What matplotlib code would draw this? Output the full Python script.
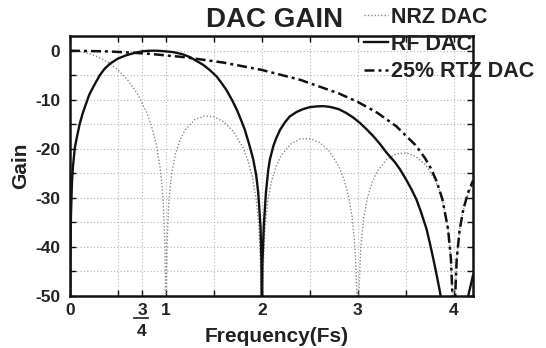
import matplotlib
matplotlib.use("Agg")
import matplotlib.pyplot as plt
import matplotlib.transforms as mtransforms
from matplotlib.lines import Line2D

plt.rcParams['font.family'] = ['Liberation Sans', 'DejaVu Sans']
plt.rcParams['font.weight'] = 'bold'

# ---------------- data ----------------
title = "DAC GAIN"
series_names = ["NRZ DAC", "RF DAC", "25% RTZ DAC"]

nrz_f = [0.0, 0.1, 0.2, 0.3, 0.4, 0.5, 0.6, 0.7, 0.8, 0.85, 0.9, 0.94, 0.97, 0.99, 1.0,
         1.01, 1.03, 1.06, 1.1, 1.15, 1.2, 1.3, 1.4, 1.5, 1.6, 1.7, 1.8, 1.85, 1.9, 1.94,
         1.97, 1.99, 2.0, 2.01, 2.03, 2.06, 2.1, 2.15, 2.2, 2.3, 2.4, 2.5, 2.6, 2.7, 2.8,
         2.85, 2.9, 2.94, 2.97, 2.99, 3.0, 3.01, 3.03, 3.06, 3.1, 3.15, 3.2, 3.3, 3.4, 3.5,
         3.6, 3.7, 3.8, 3.85, 3.9, 3.94, 3.97, 3.99, 4.0, 4.01, 4.03, 4.06, 4.1, 4.15, 4.2]
nrz_db = [0.0, -0.14, -0.58, -1.33, -2.42, -3.92, -5.94, -8.69, -12.62, -15.39, -19.23, -23.95,
          -30.2, -39.9, -60.0,
          -40.1, -30.7, -25.0, -20.97, -18.02, -16.14, -14.06, -13.30, -13.46, -14.46, -16.39,
          -19.66, -22.15, -25.72, -30.25, -36.36, -45.98, -60.0,
          -46.07, -36.62, -30.77, -26.59, -23.45, -21.41, -19.02, -17.98, -17.90, -18.68,
          -20.41, -23.50, -25.90, -29.39, -33.86, -39.93, -49.5, -60.0,
          -49.57, -40.10, -34.20, -29.97, -26.77, -24.66, -22.15, -21.01, -20.82, -21.51,
          -23.15, -26.15, -28.51, -31.96, -36.40, -42.45, -52.0, -60.0,
          -52.0, -42.58, -36.66, -32.40, -29.16, -27.02]

rf_f = [0.0, 0.004, 0.01, 0.02, 0.03, 0.05, 0.07, 0.10, 0.13, 0.16, 0.20, 0.25, 0.31, 0.36,
        0.42, 0.50, 0.59, 0.68, 0.76, 0.84, 0.90, 0.98, 1.08, 1.17, 1.25, 1.32, 1.39, 1.46,
        1.53, 1.58, 1.63, 1.69, 1.74, 1.78, 1.82, 1.86, 1.89, 1.91, 1.94, 1.962, 1.986, 1.995,
        2.0, 2.005, 2.02, 2.042, 2.066, 2.083, 2.118, 2.15, 2.19, 2.24, 2.29, 2.36, 2.43, 2.50,
        2.57, 2.64, 2.71, 2.80, 2.88, 2.95, 3.02, 3.09, 3.16, 3.23, 3.30, 3.385, 3.44, 3.507,
        3.56, 3.61, 3.66, 3.715, 3.75, 3.785, 3.82, 3.854, 3.88, 4.0, 4.12, 4.15, 4.2]
rf_db = [-60.0, -42.0, -33.5, -27.0, -23.8, -19.8, -17.8, -15.0, -12.9, -11.2, -9.0, -7.1,
         -5.0, -3.7, -2.6, -1.6, -0.9, -0.4, -0.1, 0.0, 0.0, -0.1, -0.3, -0.7, -1.3, -2.1,
         -2.9, -4.0, -5.3, -6.6, -8.0, -10.1, -12.1, -14.0, -16.0, -18.6, -20.7, -22.2, -25.3,
         -29.0, -36.0, -43.0, -60.0, -43.5, -35.7, -28.9, -24.3, -22.2, -19.5, -17.8, -16.1,
         -14.6, -13.4, -12.5, -11.9, -11.5, -11.35, -11.3, -11.45, -11.9, -12.7, -13.6, -14.7,
         -16.0, -17.4, -19.0, -20.8, -22.7, -24.2, -26.4, -28.3, -30.3, -33.0, -36.3, -39.2,
         -42.3, -45.6, -49.0, -52.0, -70.0, -53.0, -50.0, -45.8]

rtz_f = [0.0, 0.4, 0.8, 1.2, 1.6, 2.0, 2.4, 2.8, 3.0, 3.2, 3.4, 3.6, 3.7, 3.76, 3.82, 3.88,
         3.94, 3.97, 3.99, 4.0, 4.01, 4.03, 4.06, 4.1, 4.15, 4.2]
rtz_db = [0.0, -0.14, -0.58, -1.33, -2.42, -3.92, -5.94, -8.69, -10.45, -12.62, -15.39, -19.23,
          -21.90, -23.95, -26.57, -30.2, -36.35, -42.43, -52.0, -60.0, -52.0, -42.56, -36.61,
          -32.26, -28.86, -26.48]

x_ticks = [0, 0.5, 0.75, 1, 1.5, 2, 2.5, 3, 3.5, 4]
x_ticklabels = ['0', '', '3', '1', '', '2', '', '3', '', '4']
frac_pos = 0.75
frac_denominator = '4'
y_ticks = [-50, -45, -40, -35, -30, -25, -20, -15, -10, -5, 0]
y_ticklabels = ['-50', '', '-40', '', '-30', '', '-20', '', '-10', '', '0']

# ---------------- figure ----------------
fig = plt.figure(figsize=(5.46, 3.48), dpi=100)
ax = fig.add_axes([70/546, 1-296/348, 403/546, 260/348])

txt_color = '#222222'
l_nrz, = ax.plot(nrz_f, nrz_db, color='#8a8a8a', lw=1.0, ls=(0, (1, 1.4)))
l_rf, = ax.plot(rf_f, rf_db, color='#111111', lw=1.7, ls='-')
l_rtz, = ax.plot(rtz_f, rtz_db, color='#111111', lw=1.8, ls=(0, (4, 1.6, 1.2, 1.6)))

ax.set_xlim(0, 4.2)
ax.set_ylim(-50, 3)
ax.set_xticks(x_ticks)
ax.set_xticklabels(x_ticklabels)
ax.set_yticks(y_ticks)
ax.set_yticklabels(y_ticklabels)
ax.grid(True, color='#b5b5b5', ls=(0, (1, 2)), lw=0.8)
ax.tick_params(direction='in', top=True, right=True, length=4, width=1.0,
               labelsize=12.5, colors='#111111', labelcolor=txt_color)
ax.tick_params(axis='y', pad=7)
ax.tick_params(axis='x', pad=5)
for s in ax.spines.values():
    s.set_linewidth(1.8)
    s.set_color('#111111')

# fraction "3/4" tick label: numerator is the tick label, add bar and denominator
trans = mtransforms.blended_transform_factory(ax.transData, fig.transFigure)
ax.text(frac_pos, 1-336/348, frac_denominator, transform=trans, ha='center',
        va='baseline', fontsize=12.5, fontweight='bold', color=txt_color, clip_on=False)
bar = Line2D([frac_pos - 0.085, frac_pos + 0.065], [1-318/348, 1-318/348],
             transform=trans, color='#333333', lw=1.3, clip_on=False)
ax.add_artist(bar)

ax.set_xlabel('Frequency(Fs)', fontsize=15, fontweight='bold', color=txt_color)
ax.xaxis.set_label_coords(0.512, -0.118)
ax.set_ylabel('Gain', fontsize=15, fontweight='bold', color=txt_color)
ax.yaxis.set_label_coords(-0.10, 0.50)

fig.text(274.5/546, 1-27/348, title, ha='center', va='baseline', fontsize=20,
         fontweight='bold', color=txt_color)

leg = fig.legend([l_nrz, l_rf, l_rtz], series_names, loc='upper left',
                 bbox_to_anchor=(364/546, 1-7/348), frameon=False,
                 prop={'weight': 'bold', 'size': 15.5}, handlelength=1.1,
                 handletextpad=0.15, labelspacing=0.28, borderpad=0, borderaxespad=0)
for t in leg.get_texts():
    t.set_color(txt_color)

fig.savefig('out.png', dpi=100)
